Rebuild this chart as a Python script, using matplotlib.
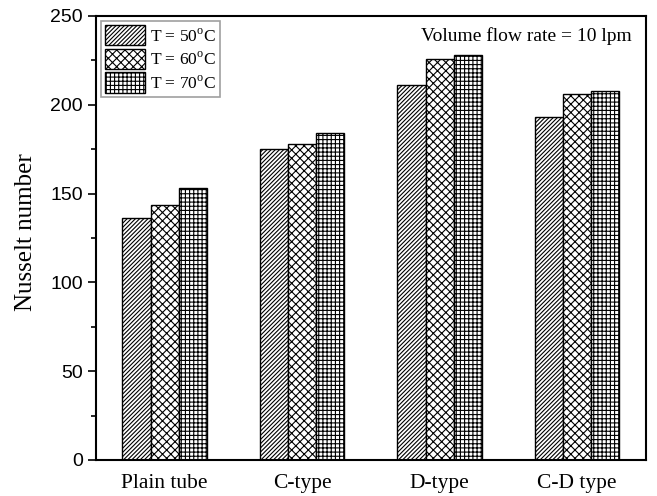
import numpy as np
import matplotlib.pyplot as plt
from matplotlib.ticker import MultipleLocator

categories = ['Plain tube', 'C-type', 'D-type', 'C-D type']
series_labels = ['T = 50$^{\\rm o}$C', 'T = 60$^{\\rm o}$C', 'T = 70$^{\\rm o}$C']
nu_50 = [136, 175, 211, 193]
nu_60 = [143.5, 178, 226, 206]
nu_70 = [153, 184, 228, 207.5]

plt.rcParams['hatch.linewidth'] = 0.8
plt.rcParams['mathtext.fontset'] = 'custom'
plt.rcParams['mathtext.rm'] = 'Liberation Serif'

fig = plt.figure(figsize=(6.57, 4.96), dpi=100)
ax = fig.add_axes([0.146, 0.0726, 0.837, 0.8954])

x = np.arange(len(categories))
w = 0.205
hatches = ['////////', 'xxxx', '++++']
for k, (vals, lab) in enumerate(zip([nu_50, nu_60, nu_70], series_labels)):
    ax.bar(x + (k - 1) * w, vals, w, facecolor='white', edgecolor='black',
           hatch=hatches[k], linewidth=1.0, label=lab)

ax.set_xlim(-0.5, 3.5)
ax.set_ylim(0, 250)
ax.yaxis.set_major_locator(MultipleLocator(50))
ax.yaxis.set_minor_locator(MultipleLocator(25))
ax.set_xticks(x)
ax.set_xticklabels(categories, family='Liberation Serif', fontsize=15.5)
ax.tick_params(axis='x', length=0, pad=10)
ax.tick_params(axis='y', which='major', direction='out', length=6, width=1.2, labelsize=14)
ax.tick_params(axis='y', which='minor', direction='out', length=3.5, width=1.2)
for lbl in ax.get_yticklabels():
    lbl.set_family('Liberation Sans')
for s in ax.spines.values():
    s.set_linewidth(1.5)

ax.set_ylabel('Nusselt number', family='Liberation Serif', fontsize=18)
ax.yaxis.set_label_coords(-0.107, 0.514)
ax.text(0.975, 0.955, 'Volume flow rate = 10 lpm', transform=ax.transAxes,
        ha='right', va='center', family='Liberation Serif', fontsize=14)

leg = ax.legend(loc='upper left', bbox_to_anchor=(0.0, 1.0), fancybox=False,
                prop={'family': 'Liberation Serif', 'size': 12.5},
                handlelength=2.3, handleheight=1.4, handletextpad=0.25,
                borderpad=0.25, labelspacing=0.2, borderaxespad=0.3)
leg.get_frame().set_edgecolor('#888888')
leg.get_frame().set_linewidth(1.2)

fig.savefig('out.png', dpi=100)
